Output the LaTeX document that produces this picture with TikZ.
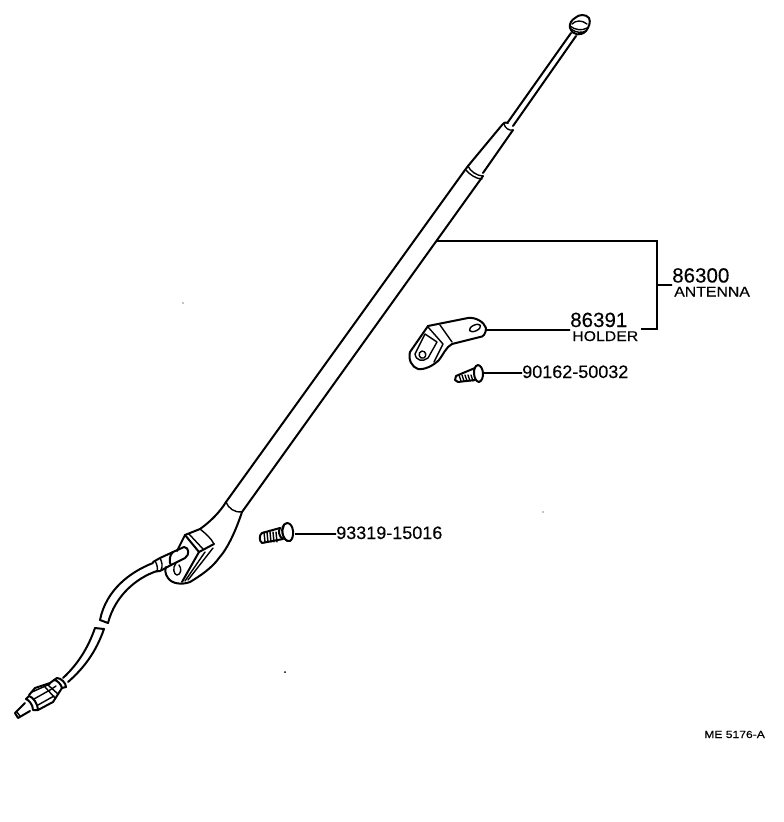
\documentclass[tikz,border=0pt]{standalone}
\usepackage{fontspec}
\setmainfont{Liberation Sans}
\newfontfamily\numfont[FakeBold=0.25]{Liberation Sans}
\newfontfamily\capsfont[FakeStretch=1.12,FakeBold=0.25]{Liberation Sans}
\newfontfamily\codefont[FakeStretch=1.18,FakeBold=0.6]{Liberation Sans}
\usetikzlibrary{positioning}
\tikzset{
	part/.style = {line width = 1.5pt, line join = round, line cap = round},
	thin part/.style = {line width = 1.05pt, line join = round, line cap = round},
	leader/.style = {line width = 1.15pt},
	partno/.style = {inner sep = 0pt, anchor = base west, font = \numfont\fontsize{13.5}{14}\selectfont},
	bigno/.style = {inner sep = 0pt, anchor = base west, font = \numfont\fontsize{15.4}{16}\selectfont},
	partname/.style = {inner sep = 0pt, anchor = base west, font = \capsfont\fontsize{10.6}{11}\selectfont}
}

\begin{document}
\begin{tikzpicture}[x = 0.75pt, y = -0.75pt]
	\useasboundingbox (0,0) rectangle (784,822);

	% labels
	\node[bigno] (antno) at (672,282.5) {86300};
	\node[partname] (antname) at (674,296.5) {ANTENNA};
	\node[bigno] (holderno) at (570,327) {86391};
	\node[partname] (holdername) at (572,341) {HOLDER};
	\node[partno] (smallscrew) at (522,378) {90162-50032};
	\node[partno] (bigscrew) at (336,539) {93319-15016};
	\node[inner sep = 0pt, anchor = base west, font = \codefont\fontsize{7.7}{9}\selectfont] (code) at (704,738) {ME 5176-A};

	% connector ends
	\coordinate (mast) at (437,241);
	\coordinate (corner a) at (657,241);
	\coordinate (corner b) at (657,329);
	\coordinate (brace end) at (641,329);
	\coordinate (brace mid) at (657,285);
	\coordinate (holder end) at (486,330);
	\coordinate (small head) at (483,373);
	\coordinate (big head) at (295,534);

	\draw[leader] (mast) -- (corner a) -- (corner b) -- (brace end);
	\draw[leader] (brace mid) -- (antno.west |- brace mid) -- ++(-4,0);
	\draw[leader] (holder end) -- (holderno.west |- holder end) -- ++(-3,0);
	\draw[leader] (small head) -- (smallscrew.west |- small head) -- ++(-3,0);
	\draw[leader] (big head) -- (bigscrew.west |- big head) -- ++(-3,0);

	% knob
	\draw[part, fill = white] (570,28) .. controls (569,23) and (572,20) .. (575,18)
		.. controls (579,14) and (586,14) .. (589,18) .. controls (591,22) and (589,27) .. (586,31)
		.. controls (581,36) and (573,36) .. (570,28) -- cycle;
	\draw[thin part] (572,24) .. controls (576,20) and (582,20) .. (587,24);
	\draw[thin part] (570,26) .. controls (575,30) and (582,31) .. (587,28);
	\draw[thin part] (571,29) .. controls (576,33) and (582,33) .. (586,31);

	% rod and tube sections
	\draw[part] (571,33) -- (508,122);
	\draw[part] (576,36) -- (513,126);
	\draw[part] (502,125) -- (468,166);
	\draw[part] (513,130) -- (483,173);
	\draw[part] (502,125) .. controls (504,122) and (507,122) .. (508,123);
	\draw[thin part] (504,124) .. controls (505,128) and (509,131) .. (513,130);
	\draw[part] (468,166) -- (465,170) -- (226,502);
	\draw[part] (483,176) -- (242,512);
	\draw[thin part] (468,166) .. controls (470,171) and (477,176) .. (483,176);
	\draw[thin part] (466,170) .. controls (469,174) and (476,179) .. (482,179);

	% base
	\draw[part] (226,502) .. controls (220,512) and (210,522) .. (200,529)
		-- (185,535) -- (177,551);
	\draw[part] (242,512) .. controls (236,530) and (228,548) .. (219,558)
		.. controls (212,568) and (200,576) .. (190,582)
		.. controls (182,585) and (172,584) .. (168,578)
		.. controls (165,574) and (165,570) .. (166,567);
	\draw[thin part] (226,502) .. controls (228,508) and (235,513) .. (242,512);
	\draw[thin part] (200,529) .. controls (205,533) and (211,538) .. (214,544);
	\draw[part] (185,535) -- (199,552) -- (214,544);
	\draw[part] (199,552) -- (182,582);
	\draw[thin part] (189,534) -- (203,549);
	\draw[thin part] (213,548) -- (188,580);
	\draw[thin part] (205,552) -- (185,581);
	\draw[thin part] (176,563) .. controls (172,568) and (174,575) .. (177,575)
		.. controls (181,575) and (182,568) .. (179,565);

	% cable
	\draw[part] (173,552) -- (184,547) .. controls (189,547) and (190,555) .. (185,558) -- (171,565);
	\draw[part] (173,552) .. controls (169,555) and (169,563) .. (171,565);
	\draw[part] (173,552) -- (160,558) -- (153,562);
	\draw[part] (171,565) -- (160,571) -- (157,571);
	\draw[thin part] (155,561) .. controls (157,564) and (158,568) .. (157,572);
	\draw[thin part] (160,558) .. controls (162,562) and (163,566) .. (161,570);
	\draw[part] (153,563) .. controls (130,572) and (106,590) .. (100,620);
	\draw[part] (157,571) .. controls (136,578) and (115,596) .. (108,623);
	\draw[part] (100,620) -- (108,623);
	\draw[part] (95,628) -- (104,629);
	\draw[part] (95,628) .. controls (88,648) and (78,664) .. (63,678);
	\draw[part] (104,629) .. controls (96,652) and (84,668) .. (68,682);

	% plug
	\draw[part] (57,678) .. controls (61,678) and (66,683) .. (66,687) -- (62,688)
		.. controls (61,684) and (57,680) .. (54,680) -- cycle;
	\draw[part] (54,680) -- (50,683) -- (35,688) -- (29,695);
	\draw[part] (62,688) -- (53,702) -- (38,710);
	\draw[thin part] (48,685) -- (58,694);
	\draw[thin part] (45,687) -- (55,698);
	\draw[thin part] (32,692) -- (50,684);
	\draw[thin part] (34,699) -- (50,690) -- (56,686);
	\draw[thin part] (38,705) -- (54,696);
	\draw[part] (29,696) .. controls (33,697) and (38,704) .. (38,710) -- (33,710)
		.. controls (33,705) and (29,700) .. (26,699) -- cycle;
	\draw[part] (25,703) -- (15,713) -- (18,718) -- (30,711);
	\draw[thin part] (17,712) -- (20,716);

	% holder
	\draw[part] (428,326) -- (468,318) .. controls (476,317) and (484,322) .. (486,328)
		.. controls (486,334) and (483,337) .. (480,337) -- (452,344)
		.. controls (446,347) and (443,355) .. (439,360)
		.. controls (433,366) and (424,370) .. (418,369)
		.. controls (412,367) and (408,360) .. (410,352) -- cycle;
	\draw[thin part] (425,334) -- (437,342) -- (428,358)
		.. controls (423,362) and (416,361) .. (415,354) -- (425,334) -- cycle;
	\draw[thin part] (428,327) -- (443,344) -- (434,362);
	\draw[thin part] (440,325) -- (452,342);
	\draw[thin part] (422,351) .. controls (417,352) and (419,360) .. (424,358)
		.. controls (427,356) and (426,351) .. (422,351) -- cycle;
	\draw[thin part, rotate around = {25:(475,328)}] (475,328) ellipse (6 and 3);

	% screw under the holder
	\draw[part] (478,365) .. controls (484,366) and (485,380) .. (479,382)
		.. controls (473,381) and (472,366) .. (478,365) -- cycle;
	\draw[part] (475,368) -- (463,373) -- (456,376) -- (455,380) -- (458,382) -- (475,380);
	\foreach \tx in {459,462,465,468,471} {
		\draw[thin part] (\tx,375) -- (\tx+2,381);
	}

	% mast screw
	\draw[part] (287,523) .. controls (294,523) and (295,538) .. (290,541)
		.. controls (283,543) and (278,525) .. (287,523) -- cycle;
	\draw[thin part] (284,526) .. controls (281,531) and (283,539) .. (287,541);
	\draw[part] (280,528) -- (262,533) .. controls (259,535) and (259,541) .. (262,543) -- (283,539);
	\draw[part] (280,528) .. controls (278,531) and (279,537) .. (283,539);
	\foreach \tx in {264,267,270,273,276} {
		\draw[thin part] (\tx,532) -- (\tx+1,542);
	}

	% specks
	\fill (183,303) circle (0.7);
	\fill (285,672) circle (1);
	\fill (543,512) circle (0.7);
\end{tikzpicture}
\end{document}
